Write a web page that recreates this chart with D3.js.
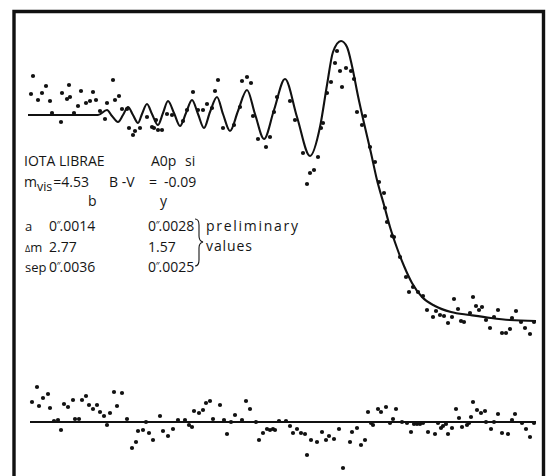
<!DOCTYPE html>
<html>
<head>
<meta charset="utf-8">
<script src="https://cdn.jsdelivr.net/npm/d3@7"></script>
<style>
  html, body { margin: 0; padding: 0; background: #fff; }
  svg { display: block; }
  text { font-family: "Open Sans", "Noto Sans", sans-serif; fill: #151515; }
</style>
</head>
<body>
<div id="chart"></div>
<script>
// occultation light curve, time in ms, intensity in counts (star level = 205)
var obsT = [0.3, 0.5, 1.0, 1.4, 1.8, 2.2, 2.4, 3.3, 3.4, 3.9, 4.1, 4.2, 4.6, 5.0, 5.3, 5.8, 6.2, 6.5, 6.8, 7.2,
  7.7, 7.9, 8.5, 8.7, 9.1, 9.4, 9.9, 10.1, 10.5, 10.7, 11.2, 11.9, 12.4, 12.6, 12.8, 13.0, 13.4, 13.9, 14.4,
  15.5, 15.9, 16.5, 17.0, 17.5, 17.9, 18.4, 18.7, 19.0, 19.5, 20.6, 21.2, 21.4, 21.9, 22.3, 22.5, 23.0, 23.8,
  24.2, 24.6, 24.9, 26.2, 26.7, 27.5, 27.9, 28.2, 28.6, 29.0, 29.3, 29.5, 29.9, 30.3, 30.7, 30.9, 31.2, 31.4,
  31.8, 32.3, 32.6, 32.9, 33.4, 33.7, 34.2, 34.7, 35.1, 35.6, 35.7, 35.9, 36.4, 36.6, 37.2, 37.8, 38.1, 38.5,
  39.0, 39.5, 39.9, 40.5, 40.8, 41.2, 41.6, 42.0, 42.4, 42.6, 43.0, 43.3, 43.6, 44.2, 44.5, 44.8, 45.1, 45.4,
  45.8, 46.2, 46.6, 47.0, 47.4, 47.8, 48.2, 48.4, 48.8, 49.3, 49.7, 50.2, 50.6]
var obsC = [226, 244, 220, 227, 234, 219, 207, 198, 227, 221, 235, 223, 207, 214, 229, 217, 219, 228, 220, 209,
  201, 217, 240, 220, 224, 211, 211, 192, 185, 189, 192, 203, 193, 192, 200, 190, 190, 206, 205,
  199, 210, 228, 210, 210, 216, 212, 229, 240, 192, 195, 213, 239, 243, 237, 204, 181, 173,
  183, 208, 223, 219, 200, 167, 136, 147, 150, 163, 192, 197, 227, 238, 257, 269, 249, 233,
  252, 249, 241, 208, 195, 204, 173, 158, 138, 127, 112, 98, 84, 83, 63, 43, 28, 33,
  28, 24, 10, 3, 9, 5, 4, -3, 3, 21, 11, -1, -2, 7, 23, 14, 10, 13,
  0, -8, 3, 10, -13, -13, -9, 2, 9, -2, -8, -14, -2]

// fitted model
var fitT = [0, 7.0, 7.9, 8.4, 9.0, 9.5, 10.0, 10.5, 11.0, 11.4, 11.9, 12.4, 13.0, 13.5, 14.0, 14.6, 15.2, 15.8,
  16.4, 17.0, 17.6, 18.2, 18.9, 19.5, 20.2, 21.0, 21.9, 22.7, 23.6, 24.6, 25.7, 26.9, 28.2, 29.2, 29.9, 30.5,
  31.3, 31.9, 32.4, 33.0, 33.6, 34.3, 34.9, 35.6, 36.2, 36.9, 37.6, 38.4, 39.4, 40.7, 42.3, 44.2, 46.3, 48.2, 50.8]
var fitC = [205, 205, 210, 204, 198, 205, 213, 205, 197, 206, 216, 206, 195, 207, 219, 207, 194, 207,
  220, 206, 192, 208, 223, 206, 189, 209, 230, 206, 181, 210, 241, 203, 164, 193, 235, 268,
  279, 273, 254, 224, 197, 167, 140, 115, 93, 72, 54, 37, 23, 14, 8, 5, 2, 0, -1]

// residuals (observed - model), counts
var resT = [0.4, 0.9, 1.1, 1.5, 2.0, 2.2, 2.6, 3.0, 3.3, 3.6, 4.0, 4.5, 4.7, 5.1, 5.4, 5.8, 6.1, 6.5, 6.9, 7.2,
  7.6, 7.9, 8.2, 8.6, 8.9, 9.4, 9.9, 10.4, 10.8, 11.0, 11.5, 11.8, 12.1, 12.5, 13.2, 13.5, 14.0, 14.5, 15.0,
  15.7, 16.1, 16.4, 16.6, 17.1, 17.5, 17.8, 18.2, 18.5, 19.2, 19.6, 19.9, 20.3, 20.7, 21.4, 21.8, 22.2, 22.8,
  23.1, 23.5, 23.9, 24.2, 24.5, 24.7, 25.1, 25.8, 26.2, 26.5, 26.9, 27.3, 27.7, 27.9, 28.3, 28.9, 29.4, 29.8,
  30.1, 30.6, 31.1, 31.5, 32.2, 32.4, 32.9, 33.3, 33.7, 34.0, 34.3, 34.5, 35.0, 35.3, 35.8, 36.2, 36.5, 36.8,
  37.4, 37.9, 38.3, 38.6, 38.9, 39.2, 39.5, 40.0, 40.7, 41.0, 41.3, 41.5, 41.8, 42.0, 42.4, 42.8, 43.1, 43.4,
  43.9, 44.1, 44.3, 44.5, 44.9, 45.3, 45.7, 45.8, 46.3, 46.6, 47.0, 47.4, 48.0, 48.4, 48.7, 49.4, 49.8, 50.2, 50.6]
var resV = [20, 35, 16, 24, 28, 14, 1, 2, -8, 18, 15, 22, 3, 3, 22, 26, 17, 13, 17, 10,
  6, -3, 9, 30, 16, 29, 3, -26, -20, -9, -8, 0, -11, -18, 6, -9, -14, -7, 2,
  2, -3, -5, 11, 9, 12, 19, 21, 3, 17, 2, -12, 0, 7, 2, 21, 13, 0,
  -18, -11, -7, -8, -7, -8, 1, 1, -4, -11, -7, -11, -12, -33, -18, -20, -10, -18,
  -14, -17, -7, -46, -20, -10, -6, -23, -18, 10, -1, -3, 13, 10, 15, -1, 3, 13,
  0, -1, -10, -2, -2, -2, -1, -10, -12, -1, -6, -4, -2, -12, -6, 13, 4, -5,
  -3, -1, 5, 20, 12, 9, 11, 0, -7, 0, 8, -11, -12, 2, 8, -1, -7, -15, -1]

// text block
var paramNames = ['a', 'Δm', 'sep']
var bValues = ['0.0014', '2.77', '0.0036']
var yValues = ['0.0028', '1.57', '0.0025']
var isArcsec = [true, false, true]

var W = 548, H = 476
var svg = d3.select('#chart').append('svg').attr('width', W).attr('height', H)

var x = d3.scaleLinear().domain([0, 51.2]).range([28, 540])
var y = d3.scaleLinear().domain([0, 205]).range([320, 115])
var yr = d3.scaleLinear().domain([-50, 50]).range([472, 372])

// frame (open at the bottom, like the scan)
svg.append('path')
  .attr('d', 'M14,' + H + ' V11.5 H543.5 V' + H)
  .attr('fill', 'none').attr('stroke', '#111').attr('stroke-width', 3.4)

// model curve
var fit = fitT.map(function(t, i) { return [t, fitC[i]] })
svg.append('path')
  .datum(fit)
  .attr('fill', 'none').attr('stroke', '#111').attr('stroke-width', 2.1)
  .attr('d', d3.line().x(function(d) { return x(d[0]) }).y(function(d) { return y(d[1]) }).curve(d3.curveMonotoneX))

// observed points
svg.append('g').selectAll('circle').data(obsT).enter().append('circle')
  .attr('cx', function(d) { return x(d) })
  .attr('cy', function(d, i) { return y(obsC[i]) })
  .attr('r', 2.1).attr('fill', '#111')

// residual zero line + residuals
svg.append('line')
  .attr('x1', x(0.2)).attr('x2', x(50.8)).attr('y1', yr(0)).attr('y2', yr(0))
  .attr('stroke', '#111').attr('stroke-width', 1.8)
svg.append('g').selectAll('circle').data(resT).enter().append('circle')
  .attr('cx', function(d) { return x(d) })
  .attr('cy', function(d, i) { return yr(resV[i]) })
  .attr('r', 2.1).attr('fill', '#111')

// labels
var txt = svg.append('g').style('font-size', '14px')
txt.append('text').attr('x', 24).attr('y', 166).text('IOTA LIBRAE')
txt.append('text').attr('x', 151).attr('y', 166).text('A0p')
txt.append('text').attr('x', 185).attr('y', 166).text('si')

var mv = txt.append('text').attr('x', 24).attr('y', 187)
mv.append('tspan').text('m')
mv.append('tspan').attr('dy', 4).style('font-size', '12.5px').text('vis')
mv.append('tspan').attr('dy', -4).attr('dx', 1).text('=4.53')
txt.append('text').attr('x', 109).attr('y', 187).text('B -V')
txt.append('text').attr('x', 149).attr('y', 187).text('=')
txt.append('text').attr('x', 164).attr('y', 187).text('-0.09')

txt.append('text').attr('x', 88).attr('y', 206).text('b')
txt.append('text').attr('x', 160).attr('y', 206).text('y')

var rowY = [231, 252, 272]
var colX = [25, 49, 148]
paramNames.forEach(function(name, i) {
  var lab = txt.append('text').attr('x', colX[0]).attr('y', rowY[i]).style('font-size', '13px')
  if (name === 'Δm') {
    lab.append('tspan').style('font-size', '9px').text('Δ')
    lab.append('tspan').text('m')
  } else {
    lab.text(name)
  }
  [bValues[i], yValues[i]].forEach(function(v, j) {
    var t = txt.append('text').attr('x', colX[j + 1]).attr('y', rowY[i])
    if (isArcsec[i]) {
      // seconds of arc mark, tucked in before the decimal point
      t.append('tspan').text(v.slice(0, 1))
      t.append('tspan').attr('dx', -0.5).attr('dy', -2).style('font-size', '10px').text('″')
      t.append('tspan').attr('dx', -1).attr('dy', 2).text(v.slice(1))
    } else {
      t.text(v)
    }
  })
})

// brace + note
var b = d3.path()
b.moveTo(195, 219)
b.quadraticCurveTo(199, 219, 199, 225)
b.lineTo(199, 236)
b.quadraticCurveTo(199, 241, 203, 242)
b.quadraticCurveTo(199, 243, 199, 248)
b.lineTo(199, 260)
b.quadraticCurveTo(199, 266, 195, 266)
svg.append('path').attr('d', b.toString()).attr('fill', 'none').attr('stroke', '#151515').attr('stroke-width', 1.1)
txt.append('text').attr('x', 206).attr('y', 231).attr('textLength', 92).attr('lengthAdjust', 'spacing').text('preliminary')
txt.append('text').attr('x', 206).attr('y', 251).attr('textLength', 46).attr('lengthAdjust', 'spacing').text('values')
</script>
</body>
</html>
